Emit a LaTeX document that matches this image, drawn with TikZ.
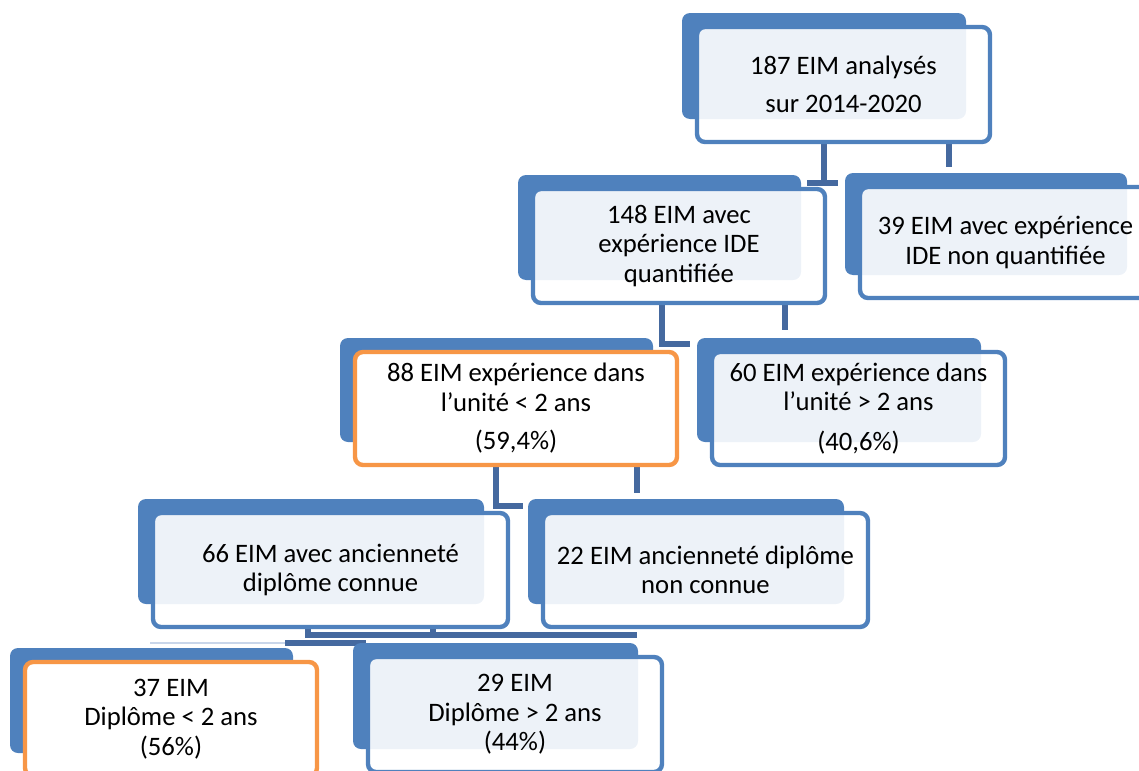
\documentclass[tikz,border=0pt]{standalone}
\usepackage{fontspec}
\setmainfont{Carlito}
\usepackage{tikz}
\usetikzlibrary{backgrounds}
\definecolor{eimblue}{HTML}{4F81BD}
\definecolor{eimorange}{HTML}{F79646}
\definecolor{eimline}{HTML}{45699F}
\definecolor{eimfaint}{HTML}{C9D6EA}
\tikzset{
  backbox/.style={fill=eimblue, rounded corners=6pt},
  frontbox/.style={draw=eimblue, line width=3.3pt, rounded corners=6pt,
    fill=white, fill opacity=0.9, text opacity=1, align=center,
    inner sep=0pt, font=\fontsize{20}{22}\selectfont},
  hot/.style={draw=eimorange, fill opacity=1},
  link/.style={draw=eimline, line width=4pt},
}
\newcommand*{\EIMBox}[7]{% #1 = name, #2/#3 = top left, #4/#5 = bottom right, #6 = style, #7 = text
\fill [backbox] (#2-15,#3-14) rectangle (#4-24,#5-23);
\node [frontbox, #6, minimum width={(#4-#2)*0.75pt}, minimum height={(#5-#3)*0.75pt}]
  (#1) at ({(#2+#4)/2},{(#3+#5)/2}) {#7};
}

\begin{document}
\begin{tikzpicture}[x=0.75pt, y=-0.75pt]

  \useasboundingbox (0,0) rectangle (1139,771);
  \clip (0,0) rectangle (1139,771);

  \EIMBox{total}{697}{27}{990}{142}{}{187 EIM analysés\\[6.5pt]sur 2014-2020}
  \EIMBox{quant}{533}{189}{825}{303}{}{148 EIM avec\\expérience IDE\\quantifiée}
  \EIMBox{nonquant}{860}{187}{1151}{298}{}{39 EIM avec expérience\\IDE non quantifiée}
  \EIMBox{unitlow}{355}{352}{677}{465}{hot}{88 EIM expérience dans\\l’unité < 2 ans\\[7pt](59,4\%)}
  \EIMBox{unithigh}{712}{352}{1005}{465}{}{60 EIM expérience dans\\l’unité > 2 ans\\[8pt](40,6\%)}
  \EIMBox{known}{153}{513}{508}{627}{}{66 EIM avec ancienneté\\diplôme connue}
  \EIMBox{unknown}{543}{513}{868}{627}{}{22 EIM ancienneté diplôme\\non connue}
  \EIMBox{diplow}{25}{662}{317}{776}{hot}{37 EIM\\Diplôme < 2 ans\\(56\%)}
  \EIMBox{diphigh}{368}{657}{662}{772}{}{29 EIM\\Diplôme > 2 ans\\(44\%)}

  % connectors, behind the boxes
  \coordinate (k1) at (824,183);
  \coordinate (k2) at (949,167);
  \coordinate (k3) at (662,344);
  \coordinate (k4) at (785,330);
  \coordinate (k5) at (496,506);
  \coordinate (k6) at (637,493);
  \coordinate (k7) at (308,635);
  \coordinate (k8) at (433,635);
  \coordinate (k9) at (637,635);
  \coordinate (k10) at (285,643);
  \coordinate (k11) at (150,643);
  \begin{pgfonlayer}{background}
    \draw [link] (total.south -| k1) -- (k1);
    \draw [link] (k1) ++(-17,0) -- ++(31,0);
    \draw [link] (total.south -| k2) -- (k2);
    \draw [link] (quant.south -| k3) -- (k3) -- ++(28,0);
    \draw [link] (quant.south -| k4) -- (k4);
    \draw [link] (unitlow.south -| k5) -- (k5) -- ++(27,0);
    \draw [link] (unitlow.south -| k6) -- (k6);
    \draw [link] (known.south -| k7) -- (k7) -- (k9);
    \draw [link] (known.south -| k8) -- (k8);
    \draw [link] (k10) -- (k10 -| diphigh.west);
    \draw [eimfaint, line width=1.5pt] (k11) -- (k10);
  \end{pgfonlayer}

\end{tikzpicture}
\end{document}
